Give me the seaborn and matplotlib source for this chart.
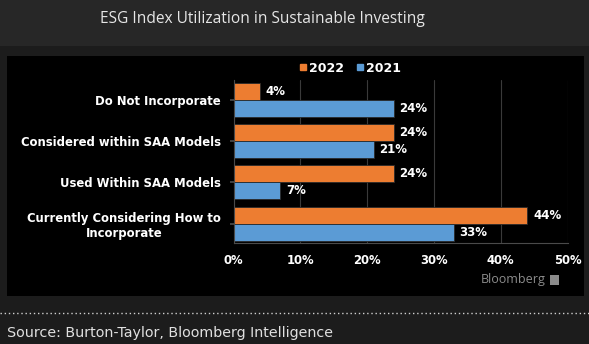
import matplotlib
matplotlib.use("Agg")
import matplotlib.pyplot as plt
from matplotlib.patches import Rectangle
from matplotlib.lines import Line2D
import seaborn as sns
import pandas as pd

categories = [
    "Do Not Incorporate",
    "Considered within SAA Models",
    "Used Within SAA Models",
    "Currently Considering How to\nIncorporate",
]
years = ["2022", "2021"]
values_2022 = [4, 24, 24, 44]
values_2021 = [24, 21, 7, 33]
x_ticks = [0, 10, 20, 30, 40, 50]
x_tick_labels = ["0%", "10%", "20%", "30%", "40%", "50%"]

colors = {"2022": "#ED7D31", "2021": "#5B9BD5"}

df = pd.DataFrame({
    "category": categories * 2,
    "year": ["2022"] * len(categories) + ["2021"] * len(categories),
    "value": values_2022 + values_2021,
})

sns.set_theme(style="dark")
plt.rcParams["font.family"] = ["DejaVu Sans"]

fig = plt.figure(figsize=(5.89, 3.44), dpi=100)
fig.patch.set_facecolor("#1c1c1c")

# header band, chart panel and footer separator
fig.add_artist(Rectangle((0, 1 - 46 / 344), 1, 46 / 344, transform=fig.transFigure,
                         facecolor="#272727", edgecolor="none", zorder=0))
fig.add_artist(Rectangle((7 / 589, 1 - 296 / 344), 577 / 589, 240 / 344,
                         transform=fig.transFigure, facecolor="#000000",
                         edgecolor="none", zorder=0))
fig.add_artist(Line2D([0, 1], [1 - 313 / 344] * 2, transform=fig.transFigure,
                      color="#d0d0d0", linestyle=(0, (1, 2)), linewidth=1.0))

fig.text(262 / 589, 1 - 19 / 344, "ESG Index Utilization in Sustainable Investing",
         ha="center", va="center", color="#e6e6e6", fontsize=11.2,
         family="Open Sans")
fig.text(7 / 589, 1 - 333 / 344, "Source: Burton-Taylor, Bloomberg Intelligence",
         ha="left", va="center", color="#e0e0e0", fontsize=10.3)

ax = fig.add_axes([233.5 / 589, 1 - 243 / 344, 334 / 589, 163 / 344])
ax.set_facecolor("#000000")

sns.barplot(data=df, y="category", x="value", hue="year", hue_order=years,
            order=categories, palette=colors, orient="h", width=0.82,
            saturation=1, edgecolor="#2a2a2a", linewidth=0.6, legend=False, ax=ax)

for container in ax.containers:
    vals = container.datavalues
    ax.bar_label(container, labels=[f"{v:g}%" for v in vals], padding=4,
                 color="white", fontsize=8.5, fontweight="bold")

ax.set_xlim(0, 50)
ax.set_ylim(3.47, -0.48)
ax.set_xticks(x_ticks)
ax.set_xticklabels(x_tick_labels)
ax.set_xlabel("")
ax.set_ylabel("")
ax.grid(axis="x", color="#3a3a3a", linewidth=0.8)
ax.grid(axis="y", visible=False)
ax.set_axisbelow(True)
for side in ["top", "right"]:
    ax.spines[side].set_visible(False)
for side in ["left", "bottom"]:
    ax.spines[side].set_visible(True)
    ax.spines[side].set_color("#4a4a4a")
    ax.spines[side].set_linewidth(0.8)
ax.tick_params(axis="y", which="major", left=True, length=3, color="#4a4a4a",
               labelsize=8.4, labelcolor="white", pad=6)
ax.tick_params(axis="x", which="major", bottom=False, length=0, labelsize=8.4,
               labelcolor="white", pad=8)
for lbl in ax.get_yticklabels():
    lbl.set_fontweight("bold")
    lbl.set_multialignment("center")
for lbl in ax.get_xticklabels():
    lbl.set_fontweight("bold")

handles = [Line2D([], [], marker="s", linestyle="none", markersize=5,
                  markerfacecolor=colors[y], markeredgecolor=colors[y]) for y in years]
fig.legend(handles, years, loc="center left",
           bbox_to_anchor=(287 / 589, 1 - 68 / 344), ncol=2, frameon=False,
           handletextpad=0.1, columnspacing=0.8, handlelength=0.8,
           prop={"weight": "bold", "size": 9}, labelcolor="white")

# watermark
fig.text(546 / 589, 1 - 280 / 344, "Bloomberg", ha="right", va="center",
         color="#8c8c8c", fontsize=9, family="Open Sans")
fig.add_artist(Rectangle((550 / 589, 1 - 285 / 344), 9 / 589, 10 / 344,
                         transform=fig.transFigure, facecolor="#8c8c8c",
                         edgecolor="none"))

fig.savefig("out.png", dpi=100, facecolor=fig.get_facecolor())
